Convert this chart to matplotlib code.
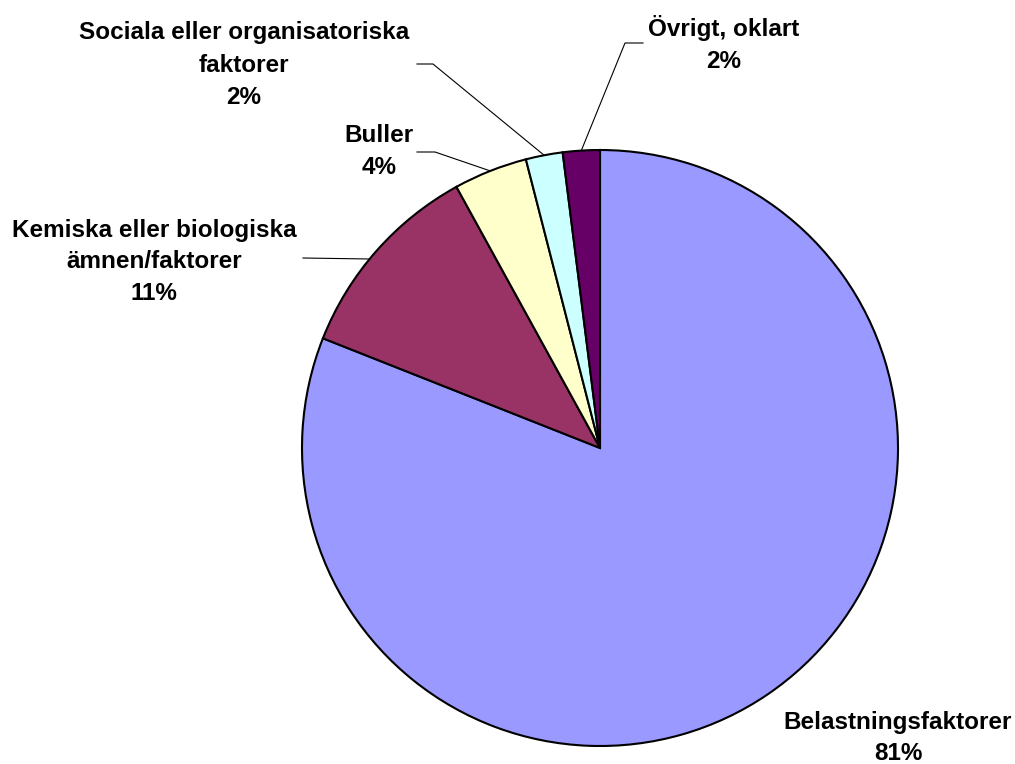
import numpy as np
import matplotlib
matplotlib.use("Agg")
from matplotlib import pyplot as plt

categories = ["Belastningsfaktorer",
              "Kemiska eller biologiska\nämnen/faktorer",
              "Buller",
              "Sociala eller organisatoriska\nfaktorer",
              "Övrigt, oklart"]
values = [81, 11, 4, 2, 2]
colors = ["#9999FF", "#993366", "#FFFFCC", "#CCFFFF", "#660066"]

# label text centre (pixels from top-left) and leader start / elbow length per slice
label_pos = [(898, 738), (154, 262), (379, 151), (244, 65), (724, 44)]
elbows = [None, (303, 258), (417, 152), (417, 64), (643, 43)]
elbow_len = [0, 0, 18, 16, -18]

W, H = 1015, 764
plt.rcParams["font.family"] = ["Liberation Sans", "DejaVu Sans"]
fig = plt.figure(figsize=(W / 100, H / 100), dpi=100)
ax = fig.add_axes([0, 0, 1, 1])

cx, cy, r = 600, H - 448, 298
wedges, _ = ax.pie(values, colors=colors, startangle=90, counterclock=False,
                   center=(cx, cy), radius=r,
                   wedgeprops=dict(edgecolor="black", linewidth=1.5))
ax.set_xlim(0, W)
ax.set_ylim(0, H)
ax.set_aspect("auto")
ax.axis("off")

total = sum(values)
for i, (cat, v, w) in enumerate(zip(categories, values, wedges)):
    lx, ly = label_pos[i]
    ax.text(lx, H - ly, f"{cat}\n{round(100 * v / total)}%", ha="center",
            va="center", fontsize=17.5, fontweight="bold", linespacing=1.5)
    if elbows[i] is None:
        continue
    bx, by = elbows[i]
    if i == 1:
        # near-horizontal leader to the wedge edge
        ey = H - by - 1
        ex = cx - np.sqrt(r ** 2 - (ey - cy) ** 2)
        ax.plot([bx, ex], [H - by, ey], color="black", lw=0.8)
    else:
        mid = np.deg2rad((w.theta1 + w.theta2) / 2)
        ex, ey = cx + r * np.cos(mid), cy + r * np.sin(mid)
        ax.plot([bx, bx + elbow_len[i], ex], [H - by, H - by, ey],
                color="black", lw=0.8)

fig.savefig("out.png", dpi=100)
